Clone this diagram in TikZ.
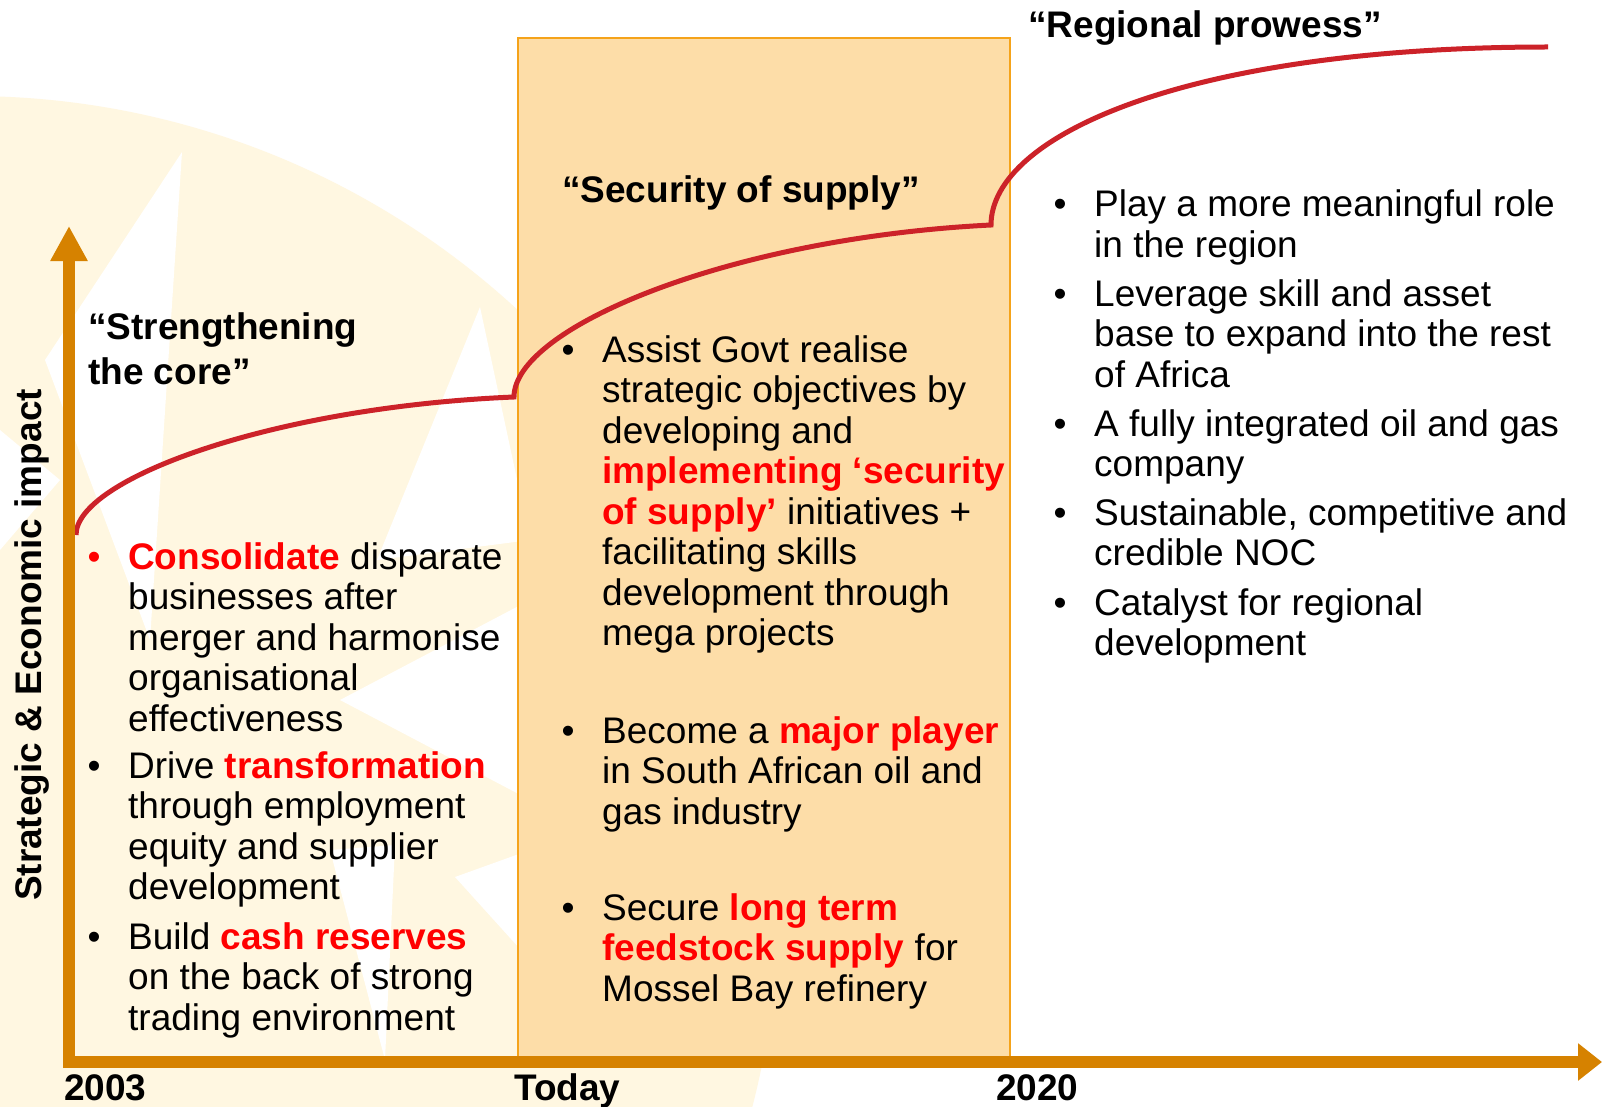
\documentclass[tikz,border=0pt]{standalone}
\usepackage{fontspec}
\setmainfont{Liberation Sans}
\usetikzlibrary{arrows.meta}
\definecolor{axisorange}{HTML}{D68200}
\definecolor{boxfill}{HTML}{FDDDA8}
\definecolor{boxline}{HTML}{F5A31A}
\definecolor{cream}{HTML}{FFF7E1}
\definecolor{curvered}{HTML}{CC2229}
\definecolor{hlred}{HTML}{FF0000}
\newcommand{\redb}[1]{\textcolor{hlred}{\bfseries #1}}
% multi-line nodes sit on the baseline of their last line
\tikzset {>=Stealth,
  body/.style={anchor=base west,inner sep=0pt,align=left,font=\fontsize{37}{40.5}\selectfont},
  bul/.style={anchor=base,inner sep=0pt,font=\fontsize{37}{40.5}\selectfont},
  head/.style={anchor=base west,inner sep=0pt,align=left,font=\fontsize{37}{45}\selectfont\bfseries},
  year/.style={anchor=base west,inner sep=0pt,font=\fontsize{37}{40}\selectfont\bfseries}}

\begin{document}
\begin{tikzpicture}[x=1pt,y=-1pt]
\useasboundingbox (0,0) rectangle (1602,1107);
\fill[white] (0,0) rectangle (1602,1107);
% faint sun in the back
\begin{scope}
\clip (0,0) rectangle (1602,1107);
\fill[cream] (-30,904) circle [radius=808pt];
\fill[white] (182,152) -- (45,360) -- (150,640) -- cycle;
\fill[white] (480,307) -- (377,560) -- (530,540) -- cycle;
\fill[white] (340,700) -- (530,600) -- (530,800) -- cycle;
\fill[white] (455,877) -- (530,850) -- (530,960) -- cycle;
\fill[white] (330,850) -- (395,845) -- (385,1060) -- cycle;
\fill[white] (0,430) -- (60,480) -- (0,550) -- cycle;
\end{scope}
% today box
\draw[boxline,line width=2pt,fill=boxfill] (518,38) rectangle (1010,1062);
% impact curve
\coordinate (C0) at (76,535);
\coordinate (C1) at (514,397);
\coordinate (C2) at (991,225);
\coordinate (C3) at (1548,47);
\draw[curvered,line width=5pt] (C0) .. controls (76,479) and (273,407) .. (C1)
  .. controls (514,328) and (729,238) .. (C2)
  .. controls (991,136) and (1186,47) .. (C3);
% axes
\coordinate (O) at (69,1068);
\coordinate (Ytip) at (69,226);
\coordinate (Xstart) at (63,1062);
\coordinate (Xtip) at (1602,1062);
\draw[axisorange,line width=12pt,-{Triangle[width=35pt,length=35pt]}] (O) -- (Ytip);
\draw[axisorange,line width=12pt,-{Triangle[width=36pt,length=24pt]}] (Xstart) -- (Xtip);
\node[year] (y2003) at (64,1100) {2003};
\node[year] (ytoday) at (514,1100) {Today};
\node[year] (y2020) at (996,1100) {2020};
\node[rotate=90,anchor=base,inner sep=0pt,font=\fontsize{37}{40}\selectfont\bfseries] (ylab) at (41,645) {Strategic \& Economic impact};
% strengthening the core
\node[head] (hcore) at (88,384) {“Strengthening\\the core”};
\node[bul,hlred] (bc1) at (94,569) {•};
\node[body] (core1) at (128,731) {\redb{Consolidate} disparate\\businesses after\\merger and harmonise\\organisational\\effectiveness};
\node[bul] (bc2) at (94,778) {•};
\node[body] (core2) at (128,899.5) {Drive \redb{transformation}\\through employment\\equity and supplier\\development};
\node[bul] (bc3) at (94,949) {•};
\node[body] (core3) at (128,1030) {Build \redb{cash reserves}\\on the back of strong\\trading environment};
% security of supply
\node[head] (hsup) at (562,203) {“Security of supply”};
\node[bul] (bs1) at (568,362) {•};
\node[body] (sup1) at (602,645.5) {Assist Govt realise\\strategic objectives by\\developing and\\\redb{implementing ‘security}\\\redb{of supply’} initiatives +\\facilitating skills\\development through\\mega projects};
\node[bul] (bs2) at (568,743) {•};
\node[body] (sup2) at (602,824) {Become a \redb{major player}\\in South African oil and\\gas industry};
\node[bul] (bs3) at (568,920) {•};
\node[body] (sup3) at (602,1001) {Secure \redb{long term}\\\redb{feedstock supply} for\\Mossel Bay refinery};
% regional prowess
\node[head] (hreg) at (1028,38) {“Regional prowess”};
\node[bul] (br1) at (1060,217) {•};
\node[body] (reg1) at (1094,257.5) {Play a more meaningful role\\in the region};
\node[bul] (br2) at (1060,306) {•};
\node[body] (reg2) at (1094,387) {Leverage skill and asset\\base to expand into the rest\\of Africa};
\node[bul] (br3) at (1060,436) {•};
\node[body] (reg3) at (1094,476.5) {A fully integrated oil and gas\\company};
\node[bul] (br4) at (1060,525) {•};
\node[body] (reg4) at (1094,565.5) {Sustainable, competitive and\\credible NOC};
\node[bul] (br5) at (1060,615) {•};
\node[body] (reg5) at (1094,655.5) {Catalyst for regional\\development};
\end{tikzpicture}
\end{document}
